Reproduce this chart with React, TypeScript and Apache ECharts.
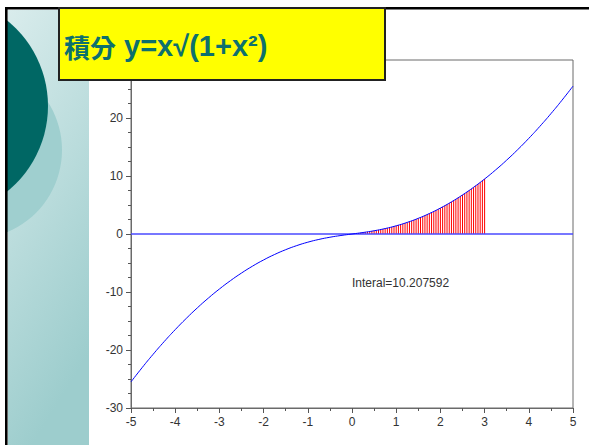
import React, { useEffect, useRef } from "react";
import * as echarts from "echarts";

const titleCJK = "積分";
const titleFormula = " y=x√(1+x²)";
const integralText = "Interal=10.207592";

const xRange = [-5, 5];
const yRange = [-30, 30];

// curve y = x*sqrt(1+x^2), read at 0.25 steps
const curveX = [
  -5, -4.75, -4.5, -4.25, -4, -3.75, -3.5, -3.25, -3, -2.75, -2.5, -2.25, -2, -1.75, -1.5, -1.25, -1, -0.75, -0.5, -0.25,
  0, 0.25, 0.5, 0.75, 1, 1.25, 1.5, 1.75, 2, 2.25, 2.5, 2.75, 3, 3.25, 3.5, 3.75, 4, 4.25, 4.5, 4.75, 5,
];
const curveY = [
  -25.4951, -23.0571, -20.744, -18.5558, -16.4924, -14.5539, -12.7402, -11.0512, -9.4868, -8.047, -6.7315, -5.54, -4.4721,
  -3.5272, -2.7042, -2.001, -1.4142, -0.9375, -0.559, -0.2577, 0, 0.2577, 0.559, 0.9375, 1.4142, 2.001, 2.7042, 3.5272,
  4.4721, 5.54, 6.7315, 8.047, 9.4868, 11.0512, 12.7402, 14.5539, 16.4924, 18.5558, 20.744, 23.0571, 25.4951,
];

// red stems from x=0 to x=3 at 0.05 steps
const stemX = [
  0, 0.05, 0.1, 0.15, 0.2, 0.25, 0.3, 0.35, 0.4, 0.45, 0.5, 0.55, 0.6, 0.65, 0.7, 0.75, 0.8, 0.85, 0.9, 0.95, 1, 1.05, 1.1,
  1.15, 1.2, 1.25, 1.3, 1.35, 1.4, 1.45, 1.5, 1.55, 1.6, 1.65, 1.7, 1.75, 1.8, 1.85, 1.9, 1.95, 2, 2.05, 2.1, 2.15, 2.2,
  2.25, 2.3, 2.35, 2.4, 2.45, 2.5, 2.55, 2.6, 2.65, 2.7, 2.75, 2.8, 2.85, 2.9, 2.95, 3,
];
const stemY = [
  0, 0.0501, 0.1005, 0.1517, 0.204, 0.2577, 0.3132, 0.3708, 0.4308, 0.4935, 0.559, 0.6277, 0.6997, 0.7752, 0.8545, 0.9375,
  1.0245, 1.1156, 1.2108, 1.3103, 1.4142, 1.5225, 1.6353, 1.7526, 1.8745, 2.001, 2.1322, 2.268, 2.4087, 2.554, 2.7042,
  2.8591, 3.0189, 3.1835, 3.3529, 3.5272, 3.7064, 3.8905, 4.0795, 4.2733, 4.4721, 4.6758, 4.8845, 5.098, 5.3165, 5.54,
  5.7684, 6.0017, 6.24, 6.4833, 6.7315, 6.9846, 7.2428, 7.5059, 7.7739, 8.047, 8.325, 8.608, 8.896, 9.1889, 9.4868,
];

const zeroLineX = [-5, 5];
const zeroLineY = [0, 0];

// y tick labels shown (the top one sits under the title box)
const hiddenYLabels = [30];

const FONT = "'Liberation Sans', Arial, 'Noto Sans CJK TC', sans-serif";
const CJK_FONT = "'Noto Sans CJK TC', 'Noto Sans CJK SC', sans-serif";

export default function App() {
  const ref = useRef<HTMLDivElement>(null);
  useEffect(() => {
    if (!ref.current) return;
    const chart = echarts.init(ref.current, null, { renderer: "svg" });
    const option: any = {
      animation: false,
      backgroundColor: "#ffffff",
      grid: {
        left: 131,
        right: 16,
        top: 60,
        bottom: 37,
        show: true,
        borderColor: "#6a6a6a",
        borderWidth: 1,
        backgroundColor: "#ffffff",
      },
      xAxis: {
        type: "value",
        min: xRange[0],
        max: xRange[1],
        interval: 1,
        axisLine: { onZero: false, lineStyle: { color: "#6a6a6a", width: 1 } },
        axisTick: { show: true, length: 5, lineStyle: { color: "#555" } },
        minorTick: { show: true, splitNumber: 2, length: 3, lineStyle: { color: "#555" } },
        splitLine: { show: false },
        axisLabel: { color: "#333", fontSize: 12, fontFamily: FONT, margin: 8 },
      },
      yAxis: {
        type: "value",
        min: yRange[0],
        max: yRange[1],
        interval: 10,
        axisLine: { show: true, onZero: false, lineStyle: { color: "#6a6a6a", width: 1 } },
        axisTick: { show: true, length: 5, lineStyle: { color: "#555" } },
        minorTick: { show: true, splitNumber: 4, length: 3, lineStyle: { color: "#555" } },
        splitLine: { show: false },
        axisLabel: {
          color: "#333",
          fontSize: 12,
          fontFamily: FONT,
          margin: 8,
          formatter: (v: number) => (hiddenYLabels.includes(v) ? "" : String(v)),
        },
      },
      series: [
        {
          type: "line",
          data: zeroLineX.map((x, i) => [x, zeroLineY[i]]),
          showSymbol: false,
          lineStyle: { color: "#4a4aff", width: 1.3 },
          z: 3,
        },
        {
          type: "custom",
          data: stemX.map((x, i) => [x, stemY[i]]),
          encode: { x: 0, y: 1 },
          renderItem: (params: any, api: any) => {
            const p0 = api.coord([api.value(0), 0]);
            const p1 = api.coord([api.value(0), api.value(1)]);
            return {
              type: "line",
              shape: { x1: p0[0], y1: p0[1], x2: p1[0], y2: p1[1] },
              style: { stroke: "#ff0000", lineWidth: 1 },
            };
          },
          z: 2,
        },
        {
          type: "line",
          data: curveX.map((x, i) => [x, curveY[i]]),
          smooth: true,
          showSymbol: false,
          lineStyle: { color: "#0000ff", width: 1 },
          z: 4,
        },
      ],
      graphic: {
        elements: [
          {
            type: "rect",
            z: -10,
            shape: { x: 8, y: 10, width: 81, height: 435 },
            style: {
              fill: new echarts.graphic.LinearGradient(0, 0, 0.3, 1, [
                { offset: 0, color: "#d9ecec" },
                { offset: 1, color: "#9dcdcd" },
              ]),
            },
          },
          {
            type: "circle",
            z: -9,
            shape: { cx: -27, cy: 150, r: 89 },
            style: { fill: "#9fcfcf" },
          },
          {
            type: "circle",
            z: -8,
            shape: { cx: -62, cy: 106, r: 110 },
            style: { fill: "#006764" },
          },
          {
            type: "rect",
            z: -7,
            shape: { x: 0, y: 0, width: 5, height: 445 },
            style: { fill: "#ffffff" },
          },
          {
            type: "rect",
            z: -7,
            shape: { x: 0, y: 0, width: 589, height: 7 },
            style: { fill: "#ffffff" },
          },
          {
            type: "rect",
            z: 50,
            shape: { x: 5, y: 7, width: 2.6, height: 438 },
            style: { fill: "#000000" },
          },
          {
            type: "rect",
            z: 50,
            shape: { x: 5, y: 7, width: 584, height: 2.6 },
            style: { fill: "#000000" },
          },
          {
            type: "text",
            z: 60,
            x: 352,
            y: 283,
            style: {
              text: integralText,
              fill: "#333333",
              fontSize: 12,
              fontFamily: FONT,
              verticalAlign: "middle",
              align: "left",
            },
          },
          {
            type: "rect",
            z: 100,
            shape: { x: 59, y: 8, width: 326, height: 72 },
            style: { fill: "#ffff00", stroke: "#222222", lineWidth: 2 },
          },
          {
            type: "text",
            z: 101,
            x: 64,
            y: 46,
            style: {
              text: "{c|" + titleCJK + "}{l|" + titleFormula + "}",
              fill: "#0d706e",
              verticalAlign: "middle",
              align: "left",
              rich: {
                c: {
                  fontSize: 26,
                  fontWeight: "bold",
                  fontFamily: CJK_FONT,
                  fill: "#0d706e",
                  color: "#0d706e",
                  verticalAlign: "middle",
                },
                l: {
                  fontSize: 29,
                  fontWeight: "bold",
                  fontFamily: FONT,
                  fill: "#0d706e",
                  color: "#0d706e",
                  verticalAlign: "middle",
                },
              },
            },
          },
        ],
      },
    };
    chart.setOption(option);
    return () => chart.dispose();
  }, []);
  return (
    <div
      ref={ref}
      style={{ position: "fixed", left: 0, top: 0, width: 589, height: 445 }}
    />
  );
}
